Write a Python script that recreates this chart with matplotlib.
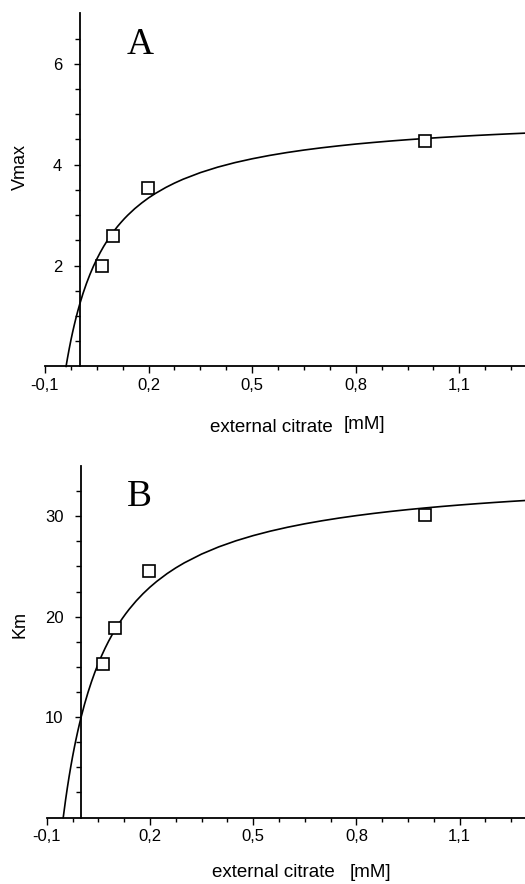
import matplotlib
matplotlib.use("Agg")
import matplotlib.pyplot as plt
from matplotlib.ticker import FixedLocator

plt.rcParams['font.family'] = ['Liberation Sans', 'DejaVu Sans']

# ---- data ----
conc_mM = [0.065, 0.098, 0.198, 1.0]
vmax_obs = [2.0, 2.59, 3.54, 4.46]
km_obs = [15.3, 18.9, 24.5, 30.1]

# fitted curves
fitA_x = [-0.039, -0.035, -0.03, -0.025, -0.02, -0.015, -0.01, -0.005, 0.0, 0.01, 0.02, 0.03,
          0.04, 0.05, 0.06, 0.07, 0.08, 0.09, 0.1, 0.11, 0.12, 0.13, 0.14, 0.16, 0.18, 0.2,
          0.22, 0.25, 0.275, 0.3, 0.35, 0.4, 0.45, 0.5, 0.55, 0.6, 0.65, 0.7, 0.75, 0.8,
          0.85, 0.9, 0.95, 1.0, 1.05, 1.1, 1.15, 1.2, 1.25, 1.3]
fitA_y = [0.0, 0.160, 0.346, 0.519, 0.679, 0.828, 0.968, 1.099, 1.221, 1.445, 1.643, 1.821,
          1.982, 2.127, 2.259, 2.380, 2.490, 2.592, 2.686, 2.774, 2.854, 2.930, 3.000, 3.128,
          3.240, 3.341, 3.430, 3.548, 3.634, 3.711, 3.842, 3.950, 4.040, 4.116, 4.182, 4.239,
          4.289, 4.333, 4.372, 4.408, 4.439, 4.468, 4.494, 4.518, 4.540, 4.560, 4.579, 4.596,
          4.612, 4.627]

fitB_x = [-0.052, -0.045, -0.04, -0.035, -0.03, -0.025, -0.02, -0.015, -0.01, -0.005, 0.0,
          0.01, 0.02, 0.03, 0.04, 0.05, 0.06, 0.07, 0.08, 0.09, 0.1, 0.11, 0.12, 0.13, 0.14,
          0.16, 0.18, 0.2, 0.22, 0.25, 0.275, 0.3, 0.35, 0.4, 0.45, 0.5, 0.55, 0.6, 0.65,
          0.7, 0.75, 0.8, 0.85, 0.9, 0.95, 1.0, 1.05, 1.1, 1.15, 1.2, 1.25, 1.3]
fitB_y = [0.0, 1.795, 2.967, 4.059, 5.077, 6.030, 6.923, 7.762, 8.551, 9.295, 9.998,
          11.293, 12.458, 13.512, 14.470, 15.344, 16.146, 16.884, 17.565, 18.195, 18.780,
          19.325, 19.834, 20.309, 20.755, 21.568, 22.291, 22.937, 23.519, 24.291, 24.856,
          25.362, 26.231, 26.950, 27.555, 28.071, 28.516, 28.904, 29.246, 29.548, 29.819,
          30.061, 30.280, 30.479, 30.660, 30.825, 30.977, 31.118, 31.247, 31.368, 31.480,
          31.585]

xtick_vals = [-0.1, 0.2, 0.5, 0.8, 1.1]
xtick_labels = ['-0,1', '0,2', '0,5', '0,8', '1,1']
ytickA_vals = [2, 4, 6]
ytickB_vals = [10, 20, 30]

W, H = 525, 884
fig = plt.figure(figsize=(W / 100, H / 100), dpi=100)

def px_axes(left, right, top, bottom):
    return fig.add_axes([left / W, 1 - bottom / H, (right - left) / W, (bottom - top) / H])

axA = px_axes(45, 525, 13.3, 366.4)
axB = px_axes(46.7, 525, 466, 817.6)

def style(ax, ymax, yticks, yminor_step, letter, letter_xy):
    ax.set_xlim(-0.1, 1.29)
    ax.set_ylim(0, ymax)
    for s in ('top', 'right'):
        ax.spines[s].set_visible(False)
    ax.spines['left'].set_position(('data', 0))
    ax.spines['left'].set_linewidth(1.3)
    ax.spines['bottom'].set_linewidth(1.3)
    ax.xaxis.set_major_locator(FixedLocator(xtick_vals))
    ax.set_xticklabels(xtick_labels)
    minors_x = [-0.1 + 0.075 * i for i in range(19) if i % 4 != 0]
    ax.xaxis.set_minor_locator(FixedLocator(minors_x))
    ax.yaxis.set_major_locator(FixedLocator(yticks))
    ax.set_yticklabels([str(v) for v in yticks])
    n = int(round(ymax / yminor_step))
    minors_y = [yminor_step * i for i in range(1, n) if (yminor_step * i) not in yticks]
    ax.yaxis.set_minor_locator(FixedLocator(minors_y))
    ax.tick_params(axis='x', which='major', direction='out', length=5.2, width=1.0,
                   pad=3, labelsize=12)
    ax.tick_params(axis='x', which='minor', direction='out', length=3, width=1.0)
    ax.tick_params(axis='y', which='major', direction='out', length=4, width=1.0,
                   pad=8.5, labelsize=12)
    ax.tick_params(axis='y', which='minor', direction='out', length=3.3, width=1.0)
    ax.text(letter_xy[0], letter_xy[1], letter, family='Liberation Serif', fontsize=27,
            ha='center', va='center')

axA.plot(fitA_x, fitA_y, color='black', lw=1.2, zorder=2, clip_on=False)
axA.plot(conc_mM, vmax_obs, linestyle='none', marker='s', markersize=8.2,
         markerfacecolor='white', markeredgecolor='black', markeredgewidth=1.2, zorder=3)
style(axA, 7, ytickA_vals, 0.5, 'A', (0.175, 6.38))

axB.plot(fitB_x, fitB_y, color='black', lw=1.2, zorder=2, clip_on=False)
axB.plot(conc_mM, km_obs, linestyle='none', marker='s', markersize=8.2,
         markerfacecolor='white', markeredgecolor='black', markeredgewidth=1.2, zorder=3)
style(axB, 35, ytickB_vals, 2.5, 'B', (0.168, 31.9))

# axis labels
fig.text(210 / W, 1 - 432.3 / H, 'external citrate', fontsize=13.5, ha='left', va='baseline')
fig.text(344 / W, 1 - 429 / H, '[mM]', fontsize=13.5, ha='left', va='baseline')
fig.text(211.7 / W, 1 - 876.7 / H, 'external citrate', fontsize=13.5, ha='left', va='baseline')
fig.text(350 / W, 1 - 876.7 / H, '[mM]', fontsize=13.5, ha='left', va='baseline')
fig.text(20.3 / W, 1 - 167.5 / H, 'Vmax', fontsize=13, rotation=90, ha='center', va='center')
fig.text(20.3 / W, 1 - 624 / H, 'Km', fontsize=13, rotation=90, ha='center', va='center')

fig.savefig('out.png', dpi=100)
